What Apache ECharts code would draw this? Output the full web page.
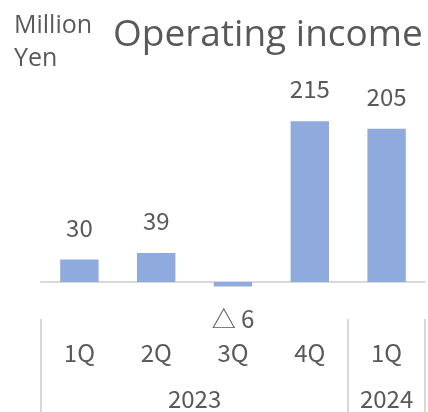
<!DOCTYPE html>
<html>
<head>
<meta charset="utf-8">
<script src="https://cdn.jsdelivr.net/npm/echarts@6/dist/echarts.min.js"></script>
<style>
  html, body { margin: 0; padding: 0; background: #fff; }
  #main { width: 428px; height: 412px; }
</style>
</head>
<body>
<div id="main"></div>
<script>
// 数据
const quarters = ['1Q', '2Q', '3Q', '4Q', '1Q']
const years = ['2023', '2024']
const yearSpans = [[0, 3], [4, 4]]  // 每年包含的季度 index
const income = [30, 39, -6, 215, 205]

const textColor = '#595959'
const font = '"Noto Sans CJK JP", "Noto Sans", sans-serif'
const titleFont = '"Open Sans", "Noto Sans", sans-serif'

const chart = echarts.init(document.getElementById('main'))

const option = {
  animation: false,
  title: [
    {
      text: 'Operating income',
      left: 108,
      top: 12,
      textStyle: {color: textColor, fontSize: 37, fontWeight: 'normal', fontFamily: titleFont}
    },
    {
      text: 'Million\nYen',
      left: 9,
      top: 4,
      textStyle: {color: textColor, fontSize: 25, fontWeight: 'normal', lineHeight: 33, fontFamily: titleFont}
    }
  ],
  grid: {left: 41, right: 3, top: 95, bottom: 100},
  yAxis: {
    type: 'value',
    min: -40,
    max: 250,
    show: false
  },
  xAxis: [
    {
      type: 'category',
      data: quarters,
      axisLine: {onZero: true, lineStyle: {color: '#d9d9d9', width: 2}},
      axisTick: {show: false},
      axisLabel: {show: false}
    },
    {
      type: 'category',
      data: quarters,
      position: 'bottom',
      offset: 7,
      axisLine: {show: false},
      axisTick: {
        show: true,
        length: 95,
        interval: (idx) => idx === 0 || idx === 4,
        lineStyle: {color: '#d9d9d9', width: 2}
      },
      axisLabel: {
        margin: 22,
        color: textColor,
        fontSize: 24,
        fontFamily: font
      }
    }
  ],
  series: [{
    type: 'bar',
    data: income,
    barWidth: '50%',
    itemStyle: {color: '#8faadc'},
    label: {
      show: true,
      position: 'outside',
      distance: 20,
      color: textColor,
      fontSize: 24,
      fontFamily: font,
      formatter: p => p.value < 0 ? '△ ' + Math.abs(p.value) : String(p.value)
    }
  }]
}

chart.setOption(option)

// 年份标签放在对应季度的中间
const yearGraphics = years.map((y, i) => {
  const a = chart.convertToPixel({xAxisIndex: 1}, yearSpans[i][0])
  const b = chart.convertToPixel({xAxisIndex: 1}, yearSpans[i][1])
  return {
    type: 'text',
    x: (a + b) / 2,
    y: 399,
    style: {
      text: y,
      fill: textColor,
      fontSize: 24,
      fontFamily: font,
      align: 'center',
      verticalAlign: 'middle'
    }
  }
})
chart.setOption({graphic: yearGraphics})
</script>
</body>
</html>
